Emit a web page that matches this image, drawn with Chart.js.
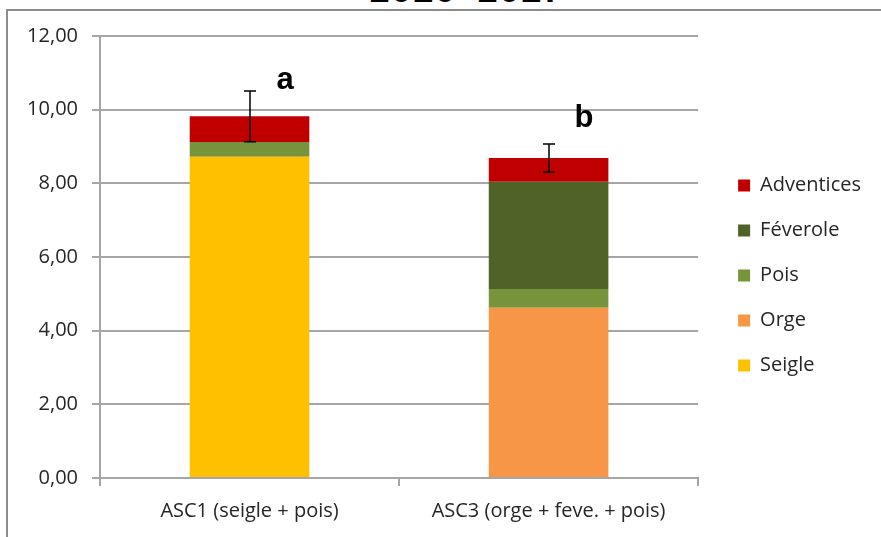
<!DOCTYPE html>
<html lang="fr">
<head>
<meta charset="utf-8">
<title>Biomasse 2016-2017</title>
<script src="https://cdn.jsdelivr.net/npm/chart.js@4.4.1/dist/chart.umd.min.js"></script>
<style>
    html, body {
        margin: 0;
        padding: 0;
        background: #ffffff;
        overflow: hidden;
    }
    #page {
        position: relative;
        width: 881px;
        height: 537px;
        overflow: hidden;
    }
    #chartTitle {
        position: absolute;
        left: 0;
        top: -25px;
        width: 932px;
        text-align: center;
        font: bold 36px/36px "Liberation Mono", monospace;
        color: #000000;
    }
    #frame {
        position: absolute;
        left: 6px;
        top: 9px;
        right: -10px;
        bottom: -10px;
        border-left: 2px solid #8c8c8c;
        border-top: 2px solid #8c8c8c;
    }
    #biomassChart {
        position: absolute;
        left: 0;
        top: 0;
    }
</style>
</head>
<body>
<div id="page">
    <div id="chartTitle">2016-2017</div>
    <div id="frame"></div>
    <canvas id="biomassChart" width="881" height="537"></canvas>
</div>

<script>
// Associations and their biomass per species (stacked, bottom to top)
const categories = ['ASC1 (seigle + pois)', 'ASC3 (orge + feve. + pois)'];
const seigle     = [8.72, 0];
const orge       = [0, 4.62];
const pois       = [0.40, 0.51];
const feverole   = [0, 2.91];
const adventices = [0.70, 0.65];

// Error on the total and significance letters
const totalError = [0.69, 0.38];
const groupLetters = ['a', 'b'];
const letterLevel = [10.8, 9.75];

// Y axis ticks
const yTickValues = [0, 2, 4, 6, 8, 10, 12];
const yTickLabels = ['0,00', '2,00', '4,00', '6,00', '8,00', '10,00', '12,00'];

const TEXT_COLOR = '#262626';
const GRID_COLOR = '#a6a6a6';
const FONT_FAMILY = '"Open Sans", Lato, sans-serif';

// Draws the error bar on top of each stack plus the group letter
const errorBarPlugin = {
    id: 'errorBars',
    afterDatasetsDraw(chart) {
        const ctx = chart.ctx;
        const yScale = chart.scales.y;
        const lastMeta = chart.getDatasetMeta(chart.data.datasets.length - 1);

        categories.forEach((cat, i) => {
            let total = 0;
            chart.data.datasets.forEach(ds => { total += ds.data[i]; });
            const x = Math.round(lastMeta.data[i].x);
            const yTop = yScale.getPixelForValue(total + totalError[i]);
            const yBottom = yScale.getPixelForValue(total - totalError[i]);

            ctx.save();
            ctx.strokeStyle = '#000000';
            ctx.lineWidth = 1.5;
            ctx.beginPath();
            ctx.moveTo(x, yTop);
            ctx.lineTo(x, yBottom);
            ctx.moveTo(x - 6, yTop);
            ctx.lineTo(x + 6, yTop);
            ctx.moveTo(x - 6, yBottom);
            ctx.lineTo(x + 6, yBottom);
            ctx.stroke();

            ctx.fillStyle = '#000000';
            ctx.font = 'bold 31px "Liberation Sans", Arial, sans-serif';
            ctx.textAlign = 'center';
            ctx.textBaseline = 'middle';
            ctx.fillText(groupLetters[i], x + 35, yScale.getPixelForValue(letterLevel[i]));
            ctx.restore();
        });
    }
};

// Pushes the legend a bit away from the plot and up
const legendShift = {
    id: 'legendShift',
    afterLayout(chart) {
        const legend = chart.legend;
        legend.left += 15;
        legend.right += 15;
        legend.top -= 11;
        legend.bottom -= 11;
    }
};

function buildDataset(label, values, color) {
    return {
        label: label,
        data: values,
        backgroundColor: color,
        borderWidth: 0,
        barPercentage: 0.4,
        categoryPercentage: 1.0
    };
}

const ctx = document.getElementById('biomassChart').getContext('2d');

new Chart(ctx, {
    type: 'bar',
    data: {
        labels: categories,
        datasets: [
            buildDataset('Seigle', seigle, '#ffc000'),
            buildDataset('Orge', orge, '#f79646'),
            buildDataset('Pois', pois, '#77933c'),
            buildDataset('Féverole', feverole, '#4f6228'),
            buildDataset('Adventices', adventices, '#c00000')
        ]
    },
    options: {
        responsive: false,
        devicePixelRatio: 1,
        animation: false,
        layout: {
            padding: {
                top: 36,
                right: 25,
                bottom: 0,
                left: 0
            }
        },
        plugins: {
            tooltip: { enabled: false },
            title: { display: false },
            legend: {
                position: 'right',
                reverse: true,
                labels: {
                    boxWidth: 12,
                    boxHeight: 12,
                    padding: 25,
                    color: TEXT_COLOR,
                    font: {
                        family: FONT_FAMILY,
                        size: 20
                    }
                }
            }
        },
        scales: {
            x: {
                stacked: true,
                offset: true,
                afterFit(scale) {
                    scale.height = 59;
                },
                grid: {
                    offset: true,
                    drawOnChartArea: false,
                    drawTicks: true,
                    tickLength: 8,
                    color: GRID_COLOR,
                    lineWidth: 2
                },
                border: {
                    display: true,
                    color: GRID_COLOR,
                    width: 2
                },
                ticks: {
                    color: TEXT_COLOR,
                    padding: 13,
                    maxRotation: 0,
                    font: {
                        family: FONT_FAMILY,
                        size: 20
                    }
                }
            },
            y: {
                stacked: true,
                min: 0,
                max: 12,
                afterFit(scale) {
                    scale.width = 100;
                },
                afterBuildTicks(scale) {
                    scale.ticks = yTickValues.map(v => ({ value: v }));
                },
                grid: {
                    color: GRID_COLOR,
                    lineWidth: 2,
                    tickLength: 8
                },
                border: {
                    display: true,
                    color: GRID_COLOR,
                    width: 2
                },
                ticks: {
                    color: TEXT_COLOR,
                    padding: 14,
                    font: {
                        family: FONT_FAMILY,
                        size: 20
                    },
                    callback: function(value) {
                        const idx = yTickValues.indexOf(value);
                        return idx >= 0 ? yTickLabels[idx] : '';
                    }
                }
            }
        }
    },
    plugins: [errorBarPlugin, legendShift]
});
</script>
</body>
</html>
